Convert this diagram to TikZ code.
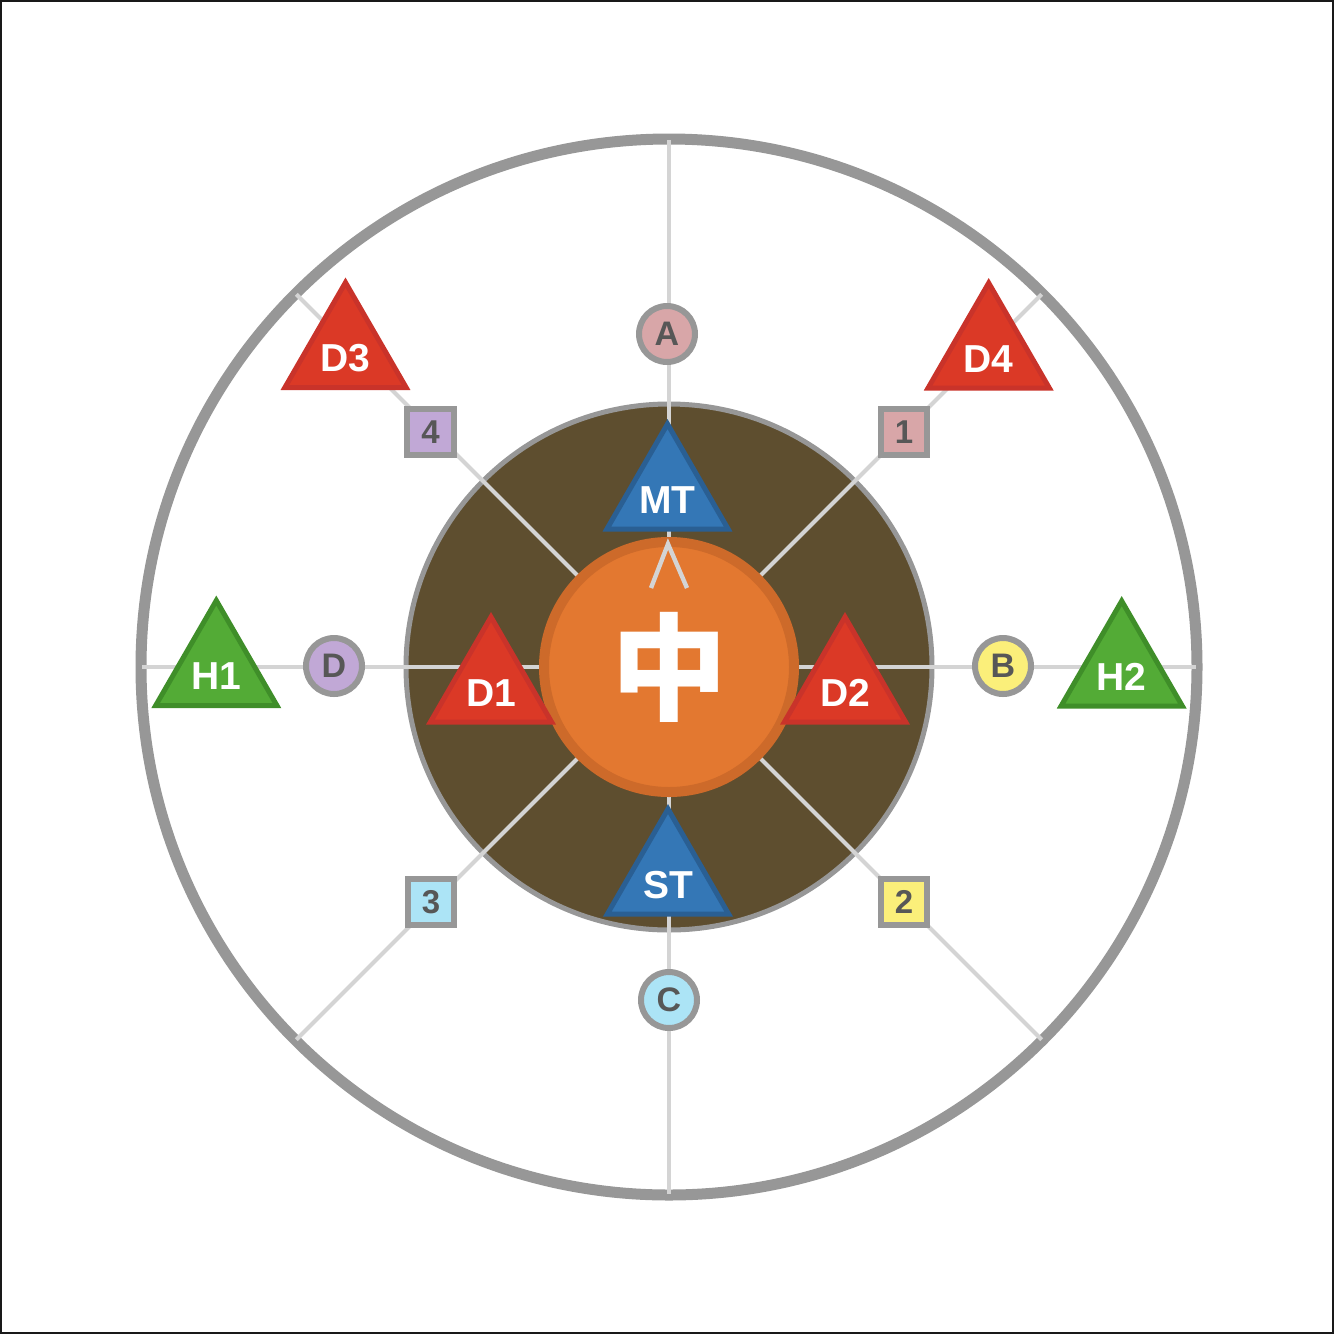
\documentclass[tikz,border=0pt]{standalone}
\usepackage{fontspec}
\setmainfont{Liberation Sans}
\newfontfamily\cjk{Noto Sans CJK SC}
\usepackage{tikz}
\usetikzlibrary{shapes.geometric,positioning}
\definecolor{ringgray}{HTML}{979797}
\definecolor{spokegray}{HTML}{D4D4D4}
\definecolor{arena}{HTML}{5E4E2F}
\definecolor{midfill}{HTML}{E37830}
\definecolor{midrim}{HTML}{CD6A2A}
\definecolor{tankfill}{HTML}{3477B6}
\definecolor{tankline}{HTML}{2A5F93}
\definecolor{dpsfill}{HTML}{DB3926}
\definecolor{dpsline}{HTML}{C9332A}
\definecolor{healfill}{HTML}{53AB36}
\definecolor{healline}{HTML}{3F8E29}
\definecolor{wpink}{HTML}{D8A6A8}
\definecolor{wyellow}{HTML}{FBEF7A}
\definecolor{wcyan}{HTML}{ACE4F6}
\definecolor{wlilac}{HTML}{C1A8D6}
\definecolor{marktext}{HTML}{575757}

\begin{document}
\begin{tikzpicture}[
    x=0.5pt,y=-0.5pt,
    tri/.style={regular polygon,regular polygon sides=3,minimum size=70pt,inner sep=0pt,line width=2.5pt},
    tank/.style={tri,fill=tankfill,draw=tankline},
    dps/.style={tri,fill=dpsfill,draw=dpsline},
    healer/.style={tri,fill=healfill,draw=healline},
    role/.style={font=\bfseries\fontsize{19.5}{20}\selectfont,text=white,yshift=-3pt},
    waymark/.style={circle,minimum size=28pt,inner sep=0pt,line width=3pt,draw=ringgray,font=\bfseries\fontsize{17}{17}\selectfont,text=marktext},
    numbox/.style={rectangle,minimum size=23.3pt,inner sep=0pt,line width=3pt,draw=ringgray,font=\bfseries\fontsize{16.5}{17}\selectfont,text=marktext},
    spoke/.style={line width=2pt,spokegray}
]
\useasboundingbox (0,0) rectangle (1334,1334);
\draw[line width=1pt,black!90] (1,1) rectangle (1333,1333);
\coordinate (c) at (669,667);
\draw[line width=5.5pt,ringgray] (c) circle[radius=528];
\draw[line width=2.5pt,draw=ringgray,fill=arena] (c) circle[radius=263];
\foreach \a in {0,45,...,315}
    \draw[spoke] (c) -- ++(\a:527);
\node[circle,minimum size=125pt,inner sep=0pt,fill=midfill,draw=midrim,line width=5pt,
      font=\cjk\bfseries\fontsize{58}{58}\selectfont,text=white] (mid) at (c) {中};
\coordinate (chl) at (651,588);
\coordinate (chr) at (687,588);
\coordinate (chtop) at (668,544);
\draw[spoke,line width=2.2pt] (chl) -- (chtop) -- (chr);

\node[tank,label={[role]center:MT}] (mt) at (667.5,494) {};
\node[tank,label={[role]center:ST}] (st) at (668,879) {};
\node[dps,label={[role]center:D1}] (d1) at (491,687) {};
\node[dps,label={[role]center:D2}] (d2) at (845,687) {};
\node[dps,label={[role]center:D3}] (d3) at (345.5,352.5) {};
\node[dps,label={[role]center:D4}] (d4) at (988.7,353) {};
\node[healer,label={[role]center:H1}] (h1) at (216.3,670.5) {};
\node[healer,label={[role]center:H2}] (h2) at (1121.7,671) {};

\node[waymark,fill=wpink] (wa) at (667,334) {A};
\node[waymark,fill=wyellow] (wb) at (1003,666) {B};
\node[waymark,fill=wcyan] (wc) at (669,1000) {C};
\node[waymark,fill=wlilac] (wd) at (334,666) {D};

\node[numbox,fill=wpink] (n1) at (904,432) {1};
\node[numbox,fill=wyellow] (n2) at (904,902) {2};
\node[numbox,fill=wcyan] (n3) at (431,902) {3};
\node[numbox,fill=wlilac] (n4) at (430.5,432) {4};
\end{tikzpicture}
\end{document}
